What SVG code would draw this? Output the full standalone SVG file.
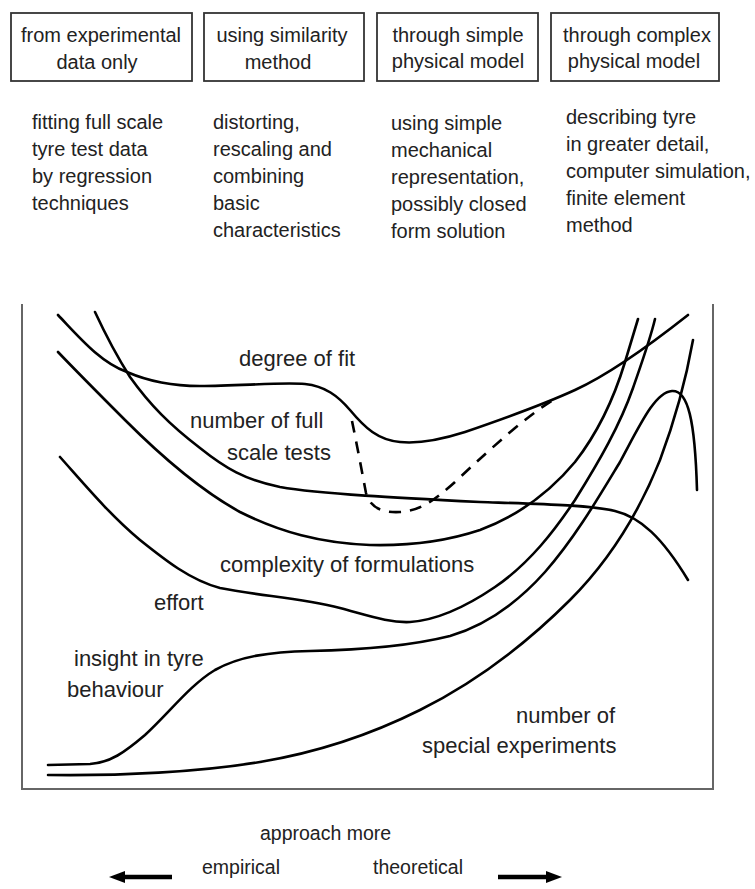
<svg xmlns="http://www.w3.org/2000/svg" width="755" height="889" viewBox="0 0 755 889">
<style>
.box{fill:#fff;stroke:#333;stroke-width:1.8}
.t{font-family:"Liberation Sans",Arial,sans-serif;font-size:20px;fill:#222}
.tm{text-anchor:middle}
.lbl{font-family:"Liberation Sans",Arial,sans-serif;font-size:22px;fill:#222}
.crv{fill:none;stroke:#000;stroke-width:2.6;stroke-linecap:round;stroke-linejoin:round}
.dash{fill:none;stroke:#000;stroke-width:2.6;stroke-dasharray:12 9}
.frame{fill:none;stroke:#666;stroke-width:2}
.arr{stroke:#000;stroke-width:4.5;fill:none}
</style>
<defs>
<marker id="ah" markerUnits="userSpaceOnUse" markerWidth="16" markerHeight="14" refX="1" refY="7" orient="auto-start-reverse">
<path d="M0,1 L16,7 L0,13 z" fill="#000"/>
</marker>
</defs>
<rect width="755" height="889" fill="#fff"/>

<g id="box1">
<rect class="box" x="11" y="13" width="181" height="68"/>
<text class="t tm" x="101" y="42">from experimental</text>
<text class="t tm" x="97" y="69">data only</text>
</g>
<g id="box2">
<rect class="box" x="204" y="13" width="160" height="68"/>
<text class="t tm" x="282" y="42">using similarity</text>
<text class="t tm" x="278" y="69">method</text>
</g>
<g id="box3">
<rect class="box" x="377" y="13" width="161" height="68"/>
<text class="t tm" x="458" y="42">through simple</text>
<text class="t tm" x="458" y="68">physical model</text>
</g>
<g id="box4">
<rect class="box" x="551" y="13" width="168" height="68"/>
<text class="t tm" x="637" y="42">through complex</text>
<text class="t tm" x="634" y="68">physical model</text>
</g>

<g id="desc1">
<text class="t" x="32" y="129">fitting full scale</text>
<text class="t" x="32" y="156">tyre test data</text>
<text class="t" x="32" y="183">by regression</text>
<text class="t" x="32" y="210">techniques</text>
</g>
<g id="desc2">
<text class="t" x="213" y="129">distorting,</text>
<text class="t" x="213" y="156">rescaling and</text>
<text class="t" x="213" y="183">combining</text>
<text class="t" x="213" y="210">basic</text>
<text class="t" x="213" y="237">characteristics</text>
</g>
<g id="desc3">
<text class="t" x="391" y="130">using simple</text>
<text class="t" x="391" y="157">mechanical</text>
<text class="t" x="391" y="184">representation,</text>
<text class="t" x="391" y="211">possibly closed</text>
<text class="t" x="391" y="238">form solution</text>
</g>
<g id="desc4">
<text class="t" x="566" y="124">describing tyre</text>
<text class="t" x="566" y="151">in greater detail,</text>
<text class="t" x="566" y="178">computer simulation,</text>
<text class="t" x="566" y="205">finite element</text>
<text class="t" x="566" y="232">method</text>
</g>

<g id="frame">
<path class="frame" d="M22,304 L22,789 L713,789 L713,304"/>
</g>

<g id="curves">
<path id="degree-of-fit" class="crv" d="M58,315 C80,338 100,362 127,372 C150,382 175,386 200,386 C240,386 280,382 305,384 C325,386 338,396 350,410 C365,428 378,440 400,442 C420,444 440,440 465,432 C500,420 540,406 575,390 C610,374 650,345 688,315"/>
<path id="full-scale-tests" class="crv" d="M95,312 C108,340 118,358 130,377 C150,405 170,425 200,448 C225,468 245,480 280,487 C320,494 400,498 480,502 C540,504 590,505 615,511 C640,517 662,537 688,580"/>
<path id="dashed" class="dash" d="M352,421 C357,445 362,472 366,493 C370,508 383,513 400,512 C420,511 435,500 455,482 C475,463 495,445 515,428 C530,416 540,408 553,400"/>
<path id="complexity" class="crv" d="M58,352 C80,375 100,395 125,420 C160,455 200,490 240,512 C280,532 320,543 370,545 C410,546 450,540 480,530 C520,515 550,492 575,462 C600,430 615,395 625,362 C630,345 634,332 638,319"/>
<path id="effort" class="crv" d="M60,457 C85,485 110,515 140,540 C165,560 190,580 220,588 C260,596 300,598 340,608 C370,616 390,623 410,622 C440,620 470,604 495,587 C530,563 555,530 575,500 C600,460 620,425 633,388 C642,362 650,340 655,319"/>
<path id="insight" class="crv" d="M48,765 L90,764 C110,763 125,752 145,735 C170,712 190,685 215,670 C240,656 270,652 310,651 C360,650 410,646 450,636 C490,624 520,600 545,572 C575,538 600,495 620,462 C640,425 655,392 672,391 C688,390 695,420 697,490"/>
<path id="special" class="crv" d="M48,775 C120,776 200,772 260,762 C320,752 370,735 420,710 C480,680 530,640 570,600 C610,560 640,510 660,460 C675,420 685,385 693,340"/>
</g>

<g id="labels">
<text class="lbl" x="239" y="366">degree of fit</text>
<text class="lbl" x="190" y="428">number of full</text>
<text class="lbl" x="227" y="460">scale tests</text>
<text class="lbl" x="220" y="572">complexity of formulations</text>
<text class="lbl" x="154" y="610">effort</text>
<text class="lbl" x="74" y="666">insight in tyre</text>
<text class="lbl" x="67" y="697">behaviour</text>
<text class="lbl" x="516" y="723">number of</text>
<text class="lbl" x="422" y="753">special experiments</text>
</g>

<g id="axis">
<text class="t" x="260" y="840" style="font-size:19.5px">approach more</text>
<text class="t" x="202" y="874" style="font-size:19.5px">empirical</text>
<text class="t" x="373" y="874" style="font-size:19.5px">theoretical</text>
<line class="arr" x1="172" y1="877" x2="124" y2="877" marker-end="url(#ah)"/>
<line class="arr" x1="498" y1="877" x2="547" y2="877" marker-end="url(#ah)"/>
</g>
</svg>
